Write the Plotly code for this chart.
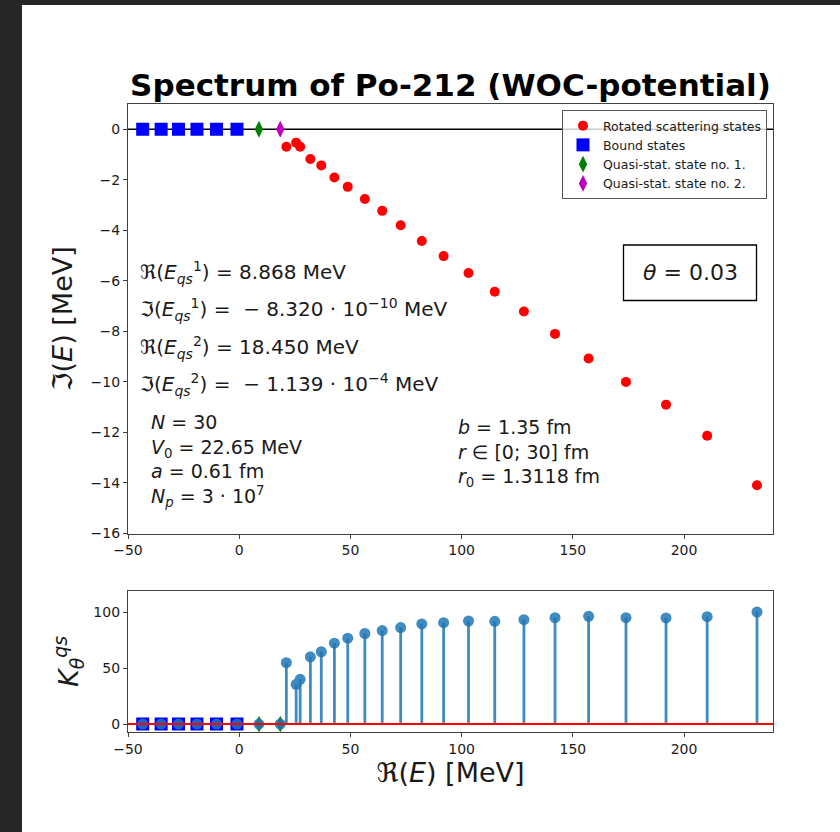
import plotly.graph_objects as go

# ---------------- data ----------------
bound_re = [-43.4, -35.1, -27.3, -19.0, -10.2, -1.0]
bound_im = [0, 0, 0, 0, 0, 0]
qs1_re = [8.868]
qs1_im = [-8.320e-10]
qs2_re = [18.450]
qs2_im = [-1.139e-4]
scat_re = [21.2, 25.6, 27.4, 32.0, 36.9, 42.8, 48.8, 56.5, 64.3, 72.6, 82.1,
           91.9, 103.1, 114.9, 128.0, 142.0, 157.1, 173.9, 191.9, 210.4, 232.8]
scat_im = [-0.69, -0.53, -0.69, -1.18, -1.43, -1.91, -2.28, -2.76, -3.23, -3.80,
           -4.42, -5.02, -5.69, -6.43, -7.21, -8.10, -9.07, -10.00, -10.90, -12.13, -14.09]
k_bound = [0, 0, 0, 0, 0, 0]
k_qs = [0, 0]
k_scat = [54.9, 35.6, 40.0, 60.2, 64.7, 72.4, 76.8, 81.0, 83.6, 86.3, 89.6,
          90.7, 92.2, 91.9, 93.4, 95.2, 96.4, 95.2, 94.9, 96.1, 100.2]
x_ticks = [-50, 0, 50, 100, 150, 200]
y_ticks_top = [0, -2, -4, -6, -8, -10, -12, -14, -16]
y_ticks_bot = [0, 50, 100]

# ---------------- layout geometry (pixels) ----------------
W, H = 840, 832
L, R, T, B = 128, 773, 104, 732


def px(xp):
    return (xp - L) / (R - L)


def py(yp):
    return (B - yp) / (B - T)


FONT = "DejaVu Sans"
TXT = "#1a1a1a"
AX = "#404040"

fig = go.Figure()

# top panel
fig.add_trace(go.Scatter(x=scat_re, y=scat_im, mode="markers", name="Rotated scattering states",
                         marker=dict(color="#ff0000", size=10, symbol="circle"),
                         xaxis="x", yaxis="y"))
fig.add_trace(go.Scatter(x=bound_re, y=bound_im, mode="markers", name="Bound states",
                         marker=dict(color="#0000ff", size=13, symbol="square"),
                         xaxis="x", yaxis="y"))
fig.add_trace(go.Scatter(x=qs1_re, y=qs1_im, mode="markers", name="Quasi-stat. state no. 1.",
                         marker=dict(color="#008000", size=12, symbol="diamond-tall"),
                         xaxis="x", yaxis="y"))
fig.add_trace(go.Scatter(x=qs2_re, y=qs2_im, mode="markers", name="Quasi-stat. state no. 2.",
                         marker=dict(color="#bf00bf", size=12, symbol="diamond-tall"),
                         xaxis="x", yaxis="y"))

# bottom panel
fig.add_trace(go.Scatter(x=bound_re, y=k_bound, mode="markers", showlegend=False,
                         marker=dict(color="#0000ff", size=13, symbol="square"),
                         xaxis="x2", yaxis="y2"))
fig.add_trace(go.Scatter(x=qs1_re + qs2_re, y=k_qs, mode="markers", showlegend=False,
                         marker=dict(color="#008000", size=12, symbol="diamond-tall"),
                         xaxis="x2", yaxis="y2"))
all_re = bound_re + qs1_re + qs2_re + scat_re
all_k = k_bound + k_qs + k_scat
stem_x, stem_y = [], []
for xv, kv in zip(all_re, all_k):
    stem_x += [xv, xv, None]
    stem_y += [0, kv, None]
fig.add_trace(go.Scatter(x=stem_x, y=stem_y, mode="lines", showlegend=False,
                         line=dict(color="#1f77b4", width=2.8),
                         xaxis="x2", yaxis="y2", opacity=0.85))
fig.add_trace(go.Scatter(x=all_re, y=all_k, mode="markers", showlegend=False,
                         marker=dict(color="#1f77b4", size=11, symbol="circle"),
                         xaxis="x2", yaxis="y2", opacity=0.85))

axis_common = dict(showline=True, mirror=True, linecolor=AX, linewidth=1.3,
                   ticks="outside", ticklen=4, tickwidth=1.1, tickcolor=AX,
                   showgrid=False, zeroline=False,
                   tickfont=dict(family=FONT, size=14, color=TXT))

top_dom = [py(533.5), 1.0]
bot_dom = [0.0, py(590.7)]

fig.update_layout(
    width=W, height=H,
    margin=dict(l=L, r=W - R, t=T, b=H - B),
    paper_bgcolor="white", plot_bgcolor="white",
    font=dict(family=FONT, color=TXT),
    title=dict(text="<b>Spectrum of Po-212 (WOC-potential)</b>",
               x=0.5, xref="paper", xanchor="center",
               y=1 - 85 / H, yref="container", yanchor="middle",
               font=dict(family=FONT, size=31, color="#000000")),
    xaxis=dict(axis_common, range=[-50, 240], tickvals=x_ticks, domain=[0, 1], anchor="y"),
    yaxis=dict(axis_common, range=[-16, 1.0], tickvals=y_ticks_top, domain=top_dom, anchor="x",
               title=dict(text="ℑ(<i>E</i>) [MeV]", font=dict(family=FONT, size=27, color=TXT),
                          standoff=10)),
    xaxis2=dict(axis_common, range=[-50, 240], tickvals=x_ticks, domain=[0, 1], anchor="y2",
                title=dict(text="ℜ(<i>E</i>) [MeV]", font=dict(family=FONT, size=27, color=TXT),
                           standoff=4)),
    yaxis2=dict(axis_common, range=[-7.1, 119.3], tickvals=y_ticks_bot, domain=bot_dom, anchor="x2"),
    legend=dict(x=px(767), xanchor="right", y=py(110), yanchor="top",
                bgcolor="rgba(255,255,255,0.8)", bordercolor="#555555", borderwidth=1,
                font=dict(family=FONT, size=12.5, color=TXT), tracegroupgap=0),
)

shapes = [
    # y = 0 line in top panel
    dict(type="line", xref="x domain", yref="y", x0=0, x1=1, y0=0, y1=0,
         line=dict(color="#000000", width=1.6), layer="below"),
    # stem baseline in bottom panel
    dict(type="line", xref="x2 domain", yref="y2", x0=0, x1=1, y0=0, y1=0,
         line=dict(color="#ff0000", width=2), layer="above"),
    # theta box
    dict(type="rect", xref="paper", yref="paper", x0=px(623.5), x1=px(756.5),
         y0=py(300.5), y1=py(245), line=dict(color="#000000", width=1.3),
         fillcolor="white", layer="above"),
    # dark photo border (left and top)
    dict(type="rect", xref="paper", yref="paper", x0=px(0), x1=px(22),
         y0=py(H), y1=py(0), line=dict(width=0), fillcolor="#262626", layer="above"),
    dict(type="rect", xref="paper", yref="paper", x0=px(0), x1=px(W),
         y0=py(5), y1=py(0), line=dict(width=0), fillcolor="#262626", layer="above"),
]
fig.update_layout(shapes=shapes)

ann = []


def add_text(text, xp, yp, size=20, xanchor="left", align="left"):
    ann.append(dict(text=text, x=px(xp), y=py(yp), xref="paper", yref="paper",
                    xanchor=xanchor, yanchor="middle", showarrow=False, align=align,
                    font=dict(family=FONT, size=size, color=TXT)))


add_text("ℜ(<i>E</i><sub><i>qs</i></sub><sup>1</sup>) = 8.868 MeV", 138, 272)
add_text("ℑ(<i>E</i><sub><i>qs</i></sub><sup>1</sup>) =  − 8.320 · 10<sup>−10</sup> MeV", 138, 309)
add_text("ℜ(<i>E</i><sub><i>qs</i></sub><sup>2</sup>) = 18.450 MeV", 138, 347)
add_text("ℑ(<i>E</i><sub><i>qs</i></sub><sup>2</sup>) =  − 1.139 · 10<sup>−4</sup> MeV", 138, 384)

add_text("<i>N</i> = 30<br><i>V</i><sub>0</sub> = 22.65 MeV<br><i>a</i> = 0.61 fm<br>"
         "<i>N</i><sub><i>p</i></sub> = 3 · 10<sup>7</sup>", 149, 461, size=19)

add_text("<i>b</i> = 1.35 fm<br><i>r</i> ∈ [0; 30] fm<br><i>r</i><sub>0</sub> = 1.3118 fm",
         456, 453, size=19)

add_text("<i>θ</i> = 0.03", 690, 272, size=22, xanchor="center", align="center")

# K label for bottom panel
ann.append(dict(text="<i>K</i><sub><i>θ</i></sub><sup><i>qs</i></sup>", x=px(68), y=py(662),
                xref="paper", yref="paper", xanchor="center", yanchor="middle",
                showarrow=False, textangle=-90,
                font=dict(family=FONT, size=27, color=TXT)))
fig.update_layout(annotations=ann)

fig.write_html("out.html", config={"displayModeBar": False},
               post_script="document.body.style.margin='0px';")
